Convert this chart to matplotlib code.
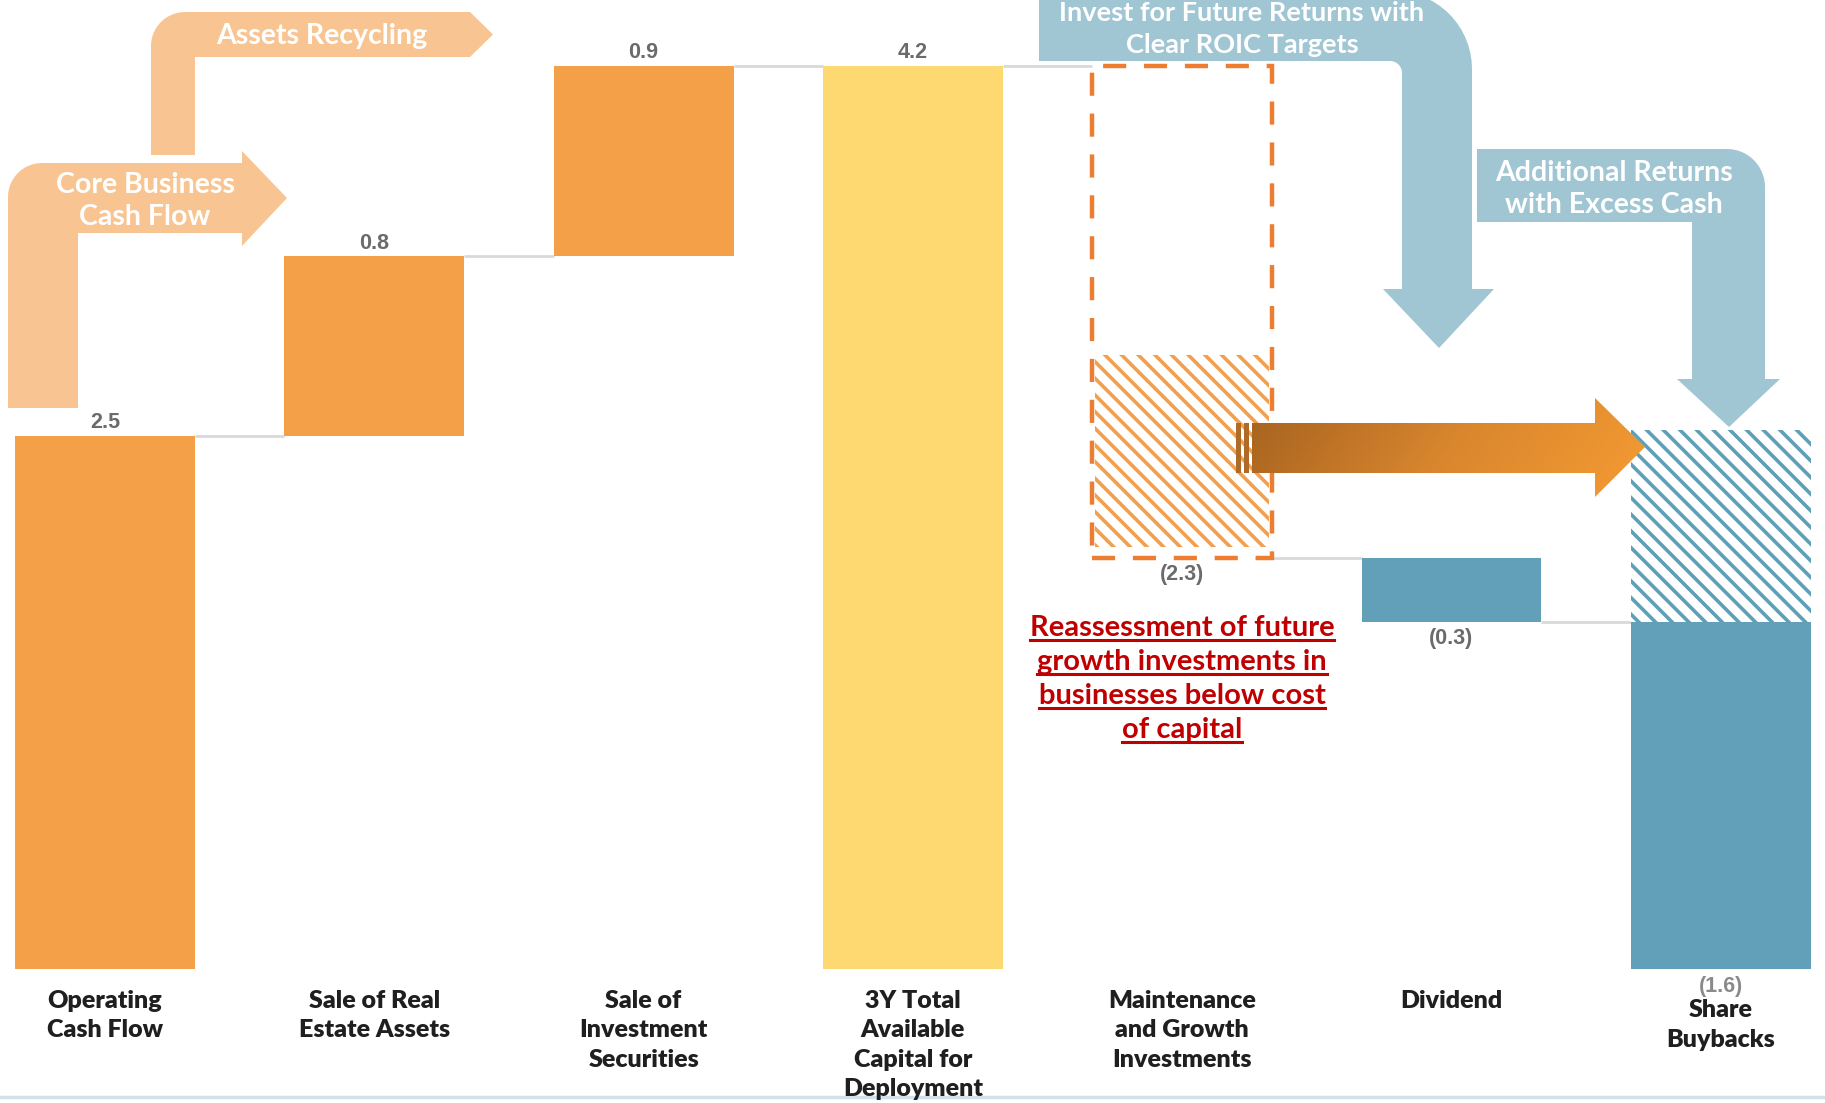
import numpy as np
import matplotlib
matplotlib.use("Agg")
import matplotlib.pyplot as plt
from matplotlib.patches import Polygon, Rectangle
from matplotlib.lines import Line2D
from matplotlib.colors import LinearSegmentedColormap
import matplotlib.transforms as mtransforms

# ---------------- data ----------------
categories = ["Operating\nCash Flow", "Sale of Real\nEstate Assets",
              "Sale of\nInvestment\nSecurities",
              "3Y Total\nAvailable\nCapital for\nDeployment",
              "Maintenance\nand Growth\nInvestments", "Dividend",
              "Share\nBuybacks"]
values = [2.49, 0.84, 0.89, 4.22, -2.3, -0.3, -1.62]
is_total = [False, False, False, True, False, False, False]
value_labels = ["2.5", "0.8", "0.9", "4.2", "(2.3)", "(0.3)", "(1.6)"]
# re-allocated (hatched) portions: [low, high]
realloc_maint = [1.97, 2.87]
realloc_buyback = [1.62, 2.52]

bar_colors = ["#F3A048", "#F3A048", "#F3A048", "#FED870", None, "#62A0B9", "#62A0B9"]

plt.rcParams["hatch.linewidth"] = 2.6

W, H = 1825, 1103
fig = plt.figure(figsize=(W / 100, H / 100), dpi=100)
ax = fig.add_axes([0, 0, 1, 1])
ax.axis("off")

# pixel (top-left origin) transform for decorations
T = mtransforms.Affine2D().scale(0.01, -0.01).translate(0, H / 100) + fig.dpi_scale_trans

# ---------------- waterfall computation ----------------
x = np.arange(len(values))
bottoms, tops, levels = [], [], []
run = 0.0
for v, tot in zip(values, is_total):
    if tot:
        b, t = 0.0, v
        run = v
    else:
        b, t = (run, run + v) if v >= 0 else (run + v, run)
        run += v
    bottoms.append(b)
    tops.append(t)
    levels.append(run)

bw = 0.668
for i in range(len(values)):
    if bar_colors[i] is None:
        continue
    ax.bar(x[i], tops[i] - bottoms[i], bottom=bottoms[i], width=bw,
           color=bar_colors[i], lw=0, zorder=2)

# hatched re-allocated pieces
ax.bar(x[4], realloc_maint[1] - realloc_maint[0], bottom=realloc_maint[0], width=bw * 0.965,
       facecolor="white", edgecolor="#F2A04E", hatch="\\\\", lw=0, zorder=2)
ax.bar(x[6], realloc_buyback[1] - realloc_buyback[0], bottom=realloc_buyback[0], width=bw,
       facecolor="white", edgecolor="#5E9FB9", hatch="\\\\", lw=0, zorder=2)
# dashed outline for maintenance bar
ax.bar(x[4], tops[4] - bottoms[4], bottom=bottoms[4], width=bw, fill=False,
       edgecolor="#ED7D31", lw=3.2, linestyle=(0, (5.2, 4.0)), zorder=3)

# connectors
for i in range(len(values) - 1):
    ax.plot([x[i] + bw / 2, x[i + 1] - bw / 2], [levels[i], levels[i]],
            color="#D9D9D9", lw=2, zorder=1, solid_capstyle="butt")

# value labels
for i in range(len(values)):
    if values[i] >= 0:
        ax.annotate(value_labels[i], (x[i], tops[i]), xytext=(0, 2), textcoords="offset points",
                    ha="center", va="bottom", fontsize=15.5, fontweight="bold",
                    color="#6B6B6B", family="Liberation Sans", zorder=5)
    else:
        col = "#8A8A8A" if i == 6 else "#6B6B6B"
        off = -5 if i == 6 else -4
        ax.annotate(value_labels[i], (x[i], bottoms[i]), xytext=(0, off), textcoords="offset points",
                    ha="center", va="top", fontsize=15.5, fontweight="bold",
                    color=col, family="Liberation Sans", zorder=5)

# category labels
for i, lab in enumerate(categories):
    yoff = -0.141 if i == 6 else -0.097
    ax.text(x[i], yoff, lab, ha="center", va="top", fontsize=18, fontweight="heavy",
            color="#1F1F1F", family="Lato", linespacing=1.42, zorder=5)


# ---------------- decorative arrows ----------------
def arc(cx, cy, r, a0, a1, n=16):
    t = np.linspace(a0, a1, n)
    return list(zip(cx + r * np.cos(t), cy + r * np.sin(t)))


pi = np.pi
light_orange = "#F8C592"
light_blue = "#A0C6D3"

core = [(8, 408)] + arc(8 + 34, 163 + 34, 34, pi, 1.5 * pi) + \
       [(242, 163), (242, 151), (287, 198), (242, 246), (242, 233), (78, 233), (78, 408)]
ax.add_patch(Polygon(core, closed=True, transform=T, facecolor=light_orange, lw=0, zorder=1))

assets = [(151, 155)] + arc(151 + 34, 12 + 34, 34, pi, 1.5 * pi) + \
         [(470, 12), (493, 34.5), (470, 57), (195, 57), (195, 155)]
ax.add_patch(Polygon(assets, closed=True, transform=T, facecolor=light_orange, lw=0, zorder=1))

blue1 = [(1039, -9)] + arc(1472 - 78, -9 + 78, 78, -0.5 * pi, 0) + \
        [(1472, 289), (1494, 289), (1439, 348), (1383, 289), (1402, 289)] + \
        arc(1390, 73, 12, 0, -0.5 * pi) + [(1039, 61)]
ax.add_patch(Polygon(blue1, closed=True, transform=T, facecolor=light_blue, lw=0, zorder=1))

blue2 = [(1477, 149)] + arc(1765 - 38, 149 + 38, 38, -0.5 * pi, 0) + \
        [(1765, 379), (1780, 379), (1729, 427), (1677, 379), (1692, 379), (1692, 222), (1477, 222)]
ax.add_patch(Polygon(blue2, closed=True, transform=T, facecolor=light_blue, lw=0, zorder=1))

txt_kw = dict(transform=T, ha="center", va="center", color="white", fontweight="bold",
              family="Lato", zorder=4)
ax.text(145, 201, "Core Business\nCash Flow", fontsize=20.5, linespacing=1.25, **txt_kw)
ax.text(322, 36, "Assets Recycling", fontsize=20.5, **txt_kw)
ax.text(1242, 29, "Invest for Future Returns with\nClear ROIC Targets", fontsize=19.5,
        linespacing=1.36, **txt_kw)
ax.text(1614, 189, "Additional Returns\nwith Excess Cash", fontsize=20.5, linespacing=1.25, **txt_kw)

# orange gradient arrow
garrow = [(1252, 423), (1595, 423), (1595, 398), (1645, 447), (1595, 497), (1595, 473), (1252, 473)]
gpatch = Polygon(garrow, closed=True, transform=T, facecolor="none", lw=0, zorder=4)
ax.add_patch(gpatch)
gx, gy = np.meshgrid(np.linspace(0, 1, 256), np.linspace(0, 1, 64))
grad = 0.85 * gx + 0.15 * gy
cmap = LinearSegmentedColormap.from_list("g", ["#A5621F", "#D9862E", "#F49B32"])
im = ax.imshow(grad, extent=(1252, 1645, 497, 398), transform=T, cmap=cmap,
               aspect="auto", origin="upper", zorder=4, interpolation="bilinear")
im.set_clip_path(gpatch)
for xs in (1236, 1244):
    ax.add_patch(Rectangle((xs, 423), 5, 50, transform=T, facecolor="#B06A28", lw=0, zorder=4))

# bottom rule
ax.add_line(Line2D([0, W], [1097, 1097], transform=T, color="#D3E2EA", lw=2.5, zorder=1))

# red underlined note
note_lines = ["Reassessment of future", "growth investments in",
              "businesses below cost", "of capital"]
note_objs = []
for k, s in enumerate(note_lines):
    t = ax.text(1182, 628 + 34 * k, s, transform=T, ha="center", va="center",
                fontsize=21, fontweight="bold", color="#C00000", family="Lato", zorder=5)
    note_objs.append(t)

ax.set_xlim(-0.39, 6.387)
ax.set_ylim(-0.626, 4.528)

fig.canvas.draw()
for t in note_objs:
    bb = t.get_window_extent()
    fig.add_artist(Line2D([bb.x0, bb.x1], [bb.y0 + 1, bb.y0 + 1],
                          transform=mtransforms.IdentityTransform(),
                          color="#C00000", lw=2.2))

fig.savefig("out.png", dpi=100)
